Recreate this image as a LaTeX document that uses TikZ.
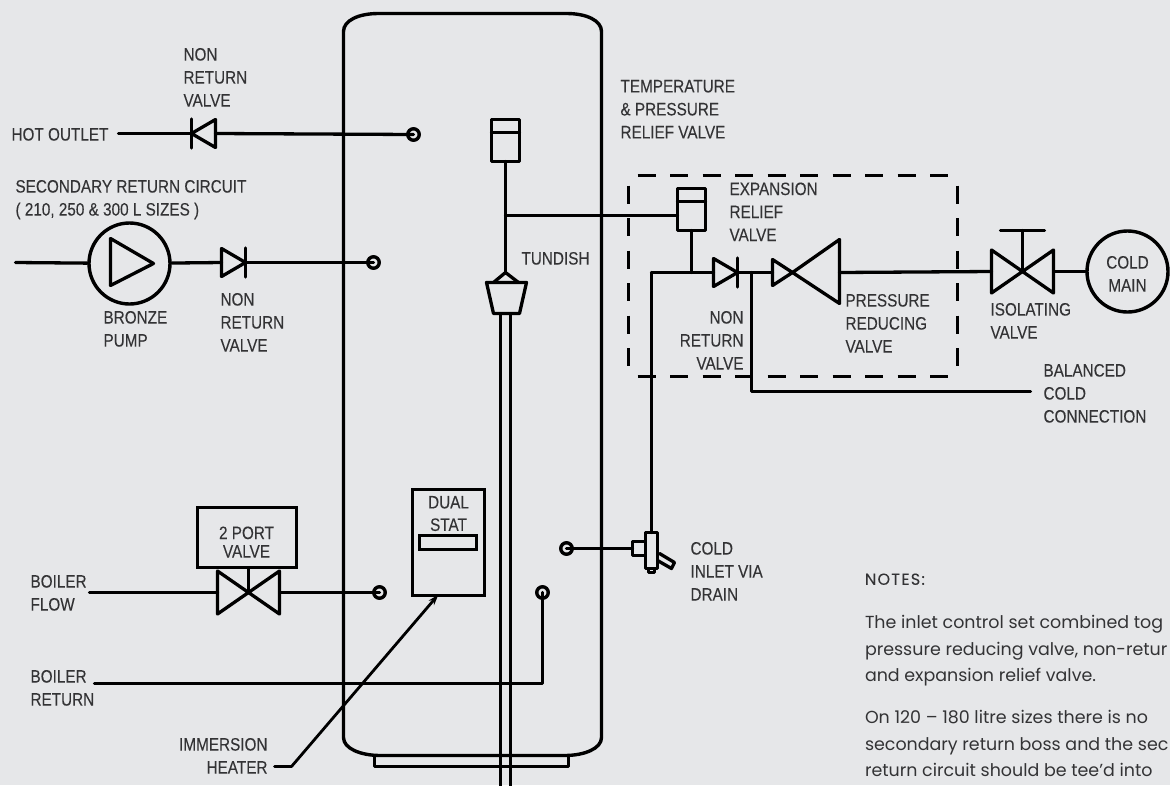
\documentclass[tikz,border=0pt]{standalone}
\usepackage{fontspec}
\setmainfont[FakeStretch=0.85,FakeBold=0.12]{Liberation Sans}
\newfontfamily\notefont{Poppins}
\newfontfamily\notehead[FakeBold=0.15,LetterSpace=8]{Poppins}
\usetikzlibrary{arrows.meta}
\definecolor{bgc}{HTML}{E6E7E9}
\definecolor{txt}{HTML}{333335}
\tikzset{
 pipe/.style={draw=black,line width=3.3pt,line join=round,line cap=round},
 lbl/.style={inner sep=0pt,outer sep=0pt,text=txt,font=\fontsize{18}{23}\selectfont,align=left,anchor=north west},
 lblr/.style={lbl,align=right,anchor=north east},
 lblc/.style={lbl,align=center,anchor=north},
 notes/.style={inner sep=0pt,outer sep=0pt,text=txt,font=\notefont\fontsize{17.45}{26.5}\selectfont,align=left,anchor=north west},
 boss/.style={circle,draw=black,line width=3.4pt,minimum size=11.5pt,inner sep=0pt},
 dashbox/.style={draw=black,line width=3pt,dash pattern=on 18pt off 14.5pt},
 checkv/.pic={\draw[pipe] (0,-14.5) -- (0,14.5);\draw[pipe] (0,0) -- (24,-14) -- (24,14) -- cycle;},
 gatev/.pic={\draw[pipe] (0,0) -- (-31,-21.5) -- (-31,21.5) -- cycle;\draw[pipe] (0,0) -- (31,-21.5) -- (31,21.5) -- cycle;},
 relief/.pic={\draw[pipe] (0,0) rectangle (28,42);\draw[pipe] (0,13) -- (28,13);},
}
\begin{document}
\begin{tikzpicture}[x=1pt,y=-1pt]
\useasboundingbox (0,0) rectangle (1170,785);
\clip (0,0) rectangle (1170,785);
\fill[bgc] (0,0) rectangle (1170,785);
\begin{scope}[xshift=0.5pt,yshift=-0.5pt]

% named points
\coordinate (hotS) at (118,133);
\coordinate (hotA) at (191,133);
\coordinate (hotB) at (215,133);
\node[boss] (hotE) at (413,134) {};
\coordinate (secS) at (15,262);
\node[circle,draw=black,line width=3.4pt,minimum size=81pt,inner sep=0pt] (pump) at (129,263) {};
\coordinate (secA) at (221,262);
\coordinate (secB) at (245,262);
\node[boss] (secE) at (373,262) {};
\coordinate (flowS) at (89,592);
\coordinate (flowA) at (217,592);
\coordinate (flowC) at (248,592);
\coordinate (flowB) at (280,592);
\node[boss] (flowE) at (379,592) {};
\coordinate (retS) at (94,683);
\coordinate (retK) at (542,683);
\node[boss] (retE) at (542,592) {};
\coordinate (imA) at (274,766);
\coordinate (imB) at (291,766);
\coordinate (stemT) at (505,161);
\coordinate (stemB) at (505,272);
\coordinate (stemJ) at (505,215);
\coordinate (expL) at (677,215);
\coordinate (expB) at (691,230);
\coordinate (expJ) at (691,272);
\coordinate (coldK) at (651,272);
\coordinate (nrvA) at (713,272);
\coordinate (nrvB) at (737,272);
\coordinate (prvA) at (772,272);
\coordinate (prvC) at (792,272);
\coordinate (prvB) at (839,272);
\coordinate (balJ) at (751,272);
\coordinate (balK) at (751,391);
\coordinate (balE) at (1030,391);
\coordinate (isoA) at (991,271);
\coordinate (isoC) at (1022,271);
\coordinate (isoB) at (1054,271);
\coordinate (isoT) at (1022,230);
\coordinate (drT) at (651,532);
\coordinate (drL) at (632,548);
\node[boss] (inE) at (566,548) {};

% tank
\draw[pipe,line width=3.4pt] (343,31) .. controls (343,20) and (358,13) .. (378,13) -- (566,13)
  .. controls (586,13) and (601,20) .. (601,31) -- (601,737)
  .. controls (601,748) and (584,755) .. (564,755) -- (380,755)
  .. controls (360,755) and (343,748) .. (343,737) -- cycle;
\draw[pipe] (374,756) -- (374,766) -- (568,766) -- (568,756);

% tundish pipes
\draw[pipe,line cap=butt] (500,313) -- (500,786);
\draw[pipe,line cap=butt] (510,313) -- (510,786);
\draw[pipe] (486,282) -- (526,282) -- (519,313) -- (493,313) -- cycle;
\draw[pipe] (493,282) -- (stemB) -- (518,282);
\draw[pipe] (stemT) -- (stemB);
\pic at (491,119) {relief};
\draw[pipe] (stemJ) -- (expL);
\pic at (677,188) {relief};
\draw[pipe] (expB) -- (expJ);

% dashed inlet group
\draw[dashbox] (637,175) -- (957,175);
\draw[dashbox] (628,185) -- (628,376);
\draw[dashbox] (637,376) -- (957,376);
\draw[dashbox] (957,185) -- (957,376);

% hot outlet
\draw[pipe] (hotS) -- (hotA);
\pic at (hotA) {checkv};
\draw[pipe] (hotB) -- (hotE.center);

% secondary return
\draw[pipe] (secS) -- (pump);
\draw[pipe] (pump) -- (secA);
\draw[pipe] (110,238) -- (110,285) -- (153,263) -- cycle;
\pic[xscale=-1] at (secB) {checkv};
\draw[pipe] (secB) -- (secE.center);

% boiler flow
\draw[pipe] (flowS) -- (flowA);
\pic at (flowC) {gatev};
\draw[pipe] (flowB) -- (flowE.center);
\node[rectangle,draw=black,line width=3.3pt,minimum width=99pt,minimum height=60pt,inner sep=0pt] (portbox) at (246.5,537) {};
\draw[pipe] (portbox.south -| flowC) -- (flowC);

% boiler return
\draw[pipe] (retS) -- (retK) -- (retE.center);

% dual stat
\node[rectangle,draw=black,line width=3.3pt,minimum width=72pt,minimum height=106pt,inner sep=0pt] (stat) at (448,542) {};
\node[rectangle,draw=black,line width=3.3pt,minimum width=57pt,minimum height=14pt,inner sep=0pt] (statbar) at (447.5,542) {};
\draw[pipe,line width=2.8pt,-{Stealth[length=11pt,width=7pt]}] (imA) -- (imB) -- (438,594);

% cold feed
\draw[pipe] (coldK) -- (nrvA);
\draw[pipe] (coldK) -- (drT);
\pic[xscale=-1] at (nrvB) {checkv};
\draw[pipe] (nrvB) -- (prvA);
\draw[pipe] (prvC) -- (772,259) -- (772,285) -- cycle;
\draw[pipe] (prvC) -- (839,239) -- (839,303) -- cycle;
\draw[pipe] (prvB) -- (isoA);
\draw[pipe] (balJ) -- (balK) -- (balE);
\pic at (isoC) {gatev};
\draw[pipe] (isoC) -- (isoT);
\draw[pipe] (1000,230) -- (1044,230);
\node[circle,draw=black,line width=3.4pt,minimum size=81pt,inner sep=0pt] (main) at (1127,271) {};
\draw[pipe] (isoB) -- (main);

% drain
\draw[pipe] (inE.center) -- (drL);
\draw[pipe] (632,541) rectangle (645,555);
\draw[pipe] (645,532) rectangle (657,568);
\draw[pipe] (648,568) rectangle (654,572);
\draw[pipe] (659,553) -- (674,562) -- (671,568) -- (657,560);

% labels
\node[lbl] (l1) at (183,47.5) {NON\\RETURN\\VALVE};
\node[lbl] (l2) at (11,127.5) {HOT OUTLET};
\node[lbl] (l3) at (15,179.5) {SECONDARY RETURN CIRCUIT\\( 210, 250 \& 300 L SIZES )};
\node[lbl] (l4) at (103,310.5) {BRONZE\\PUMP};
\node[lbl] (l5) at (220,292.5) {NON\\RETURN\\VALVE};
\node[lbl] (l6) at (620,79.5) {TEMPERATURE\\\& PRESSURE\\RELIEF VALVE};
\node[lbl] (l7) at (521,251.5) {TUNDISH};
\node[lbl] (l8) at (729,182) {EXPANSION\\RELIEF\\VALVE};
\node[lblr] (l9) at (743,310.5) {NON\\RETURN\\VALVE};
\node[lbl] (l10) at (845,293.5) {PRESSURE\\REDUCING\\VALVE};
\node[lbl] (l11) at (990,302.5) {ISOLATING\\VALVE};
\node[lblc] (l12) at (1127,255.5) {COLD\\MAIN};
\node[lbl] (l13) at (1043,363.5) {BALANCED\\COLD\\CONNECTION};
\node[lbl] (l14) at (690,541.5) {COLD\\INLET VIA\\DRAIN};
\node[lbl] (l15) at (30,574.5) {BOILER\\FLOW};
\node[lbl] (l16) at (30,669.5) {BOILER\\RETURN};
\node[lblr] (l17) at (267,737.5) {IMMERSION\\HEATER};
\node[lblc,font=\fontsize{18}{18.5}\selectfont] (l18) at (246,526) {2 PORT\\VALVE};
\node[lblc,font=\fontsize{18}{22.5}\selectfont] (l19) at (448,495.5) {DUAL\\STAT};

\node[notes,font=\notehead\fontsize{16}{26.5}\selectfont] (n0) at (864.5,573) {NOTES:};
\node[notes] (n1) at (864.5,615) {The inlet control set combined tog\\pressure reducing valve, non-retur\\and expansion relief valve.};
\node[notes] (n2) at (864.5,710) {On 120 – 180 litre sizes there is no\\secondary return boss and the sec\\return circuit should be tee’d into};
\end{scope}
\end{tikzpicture}
\end{document}
